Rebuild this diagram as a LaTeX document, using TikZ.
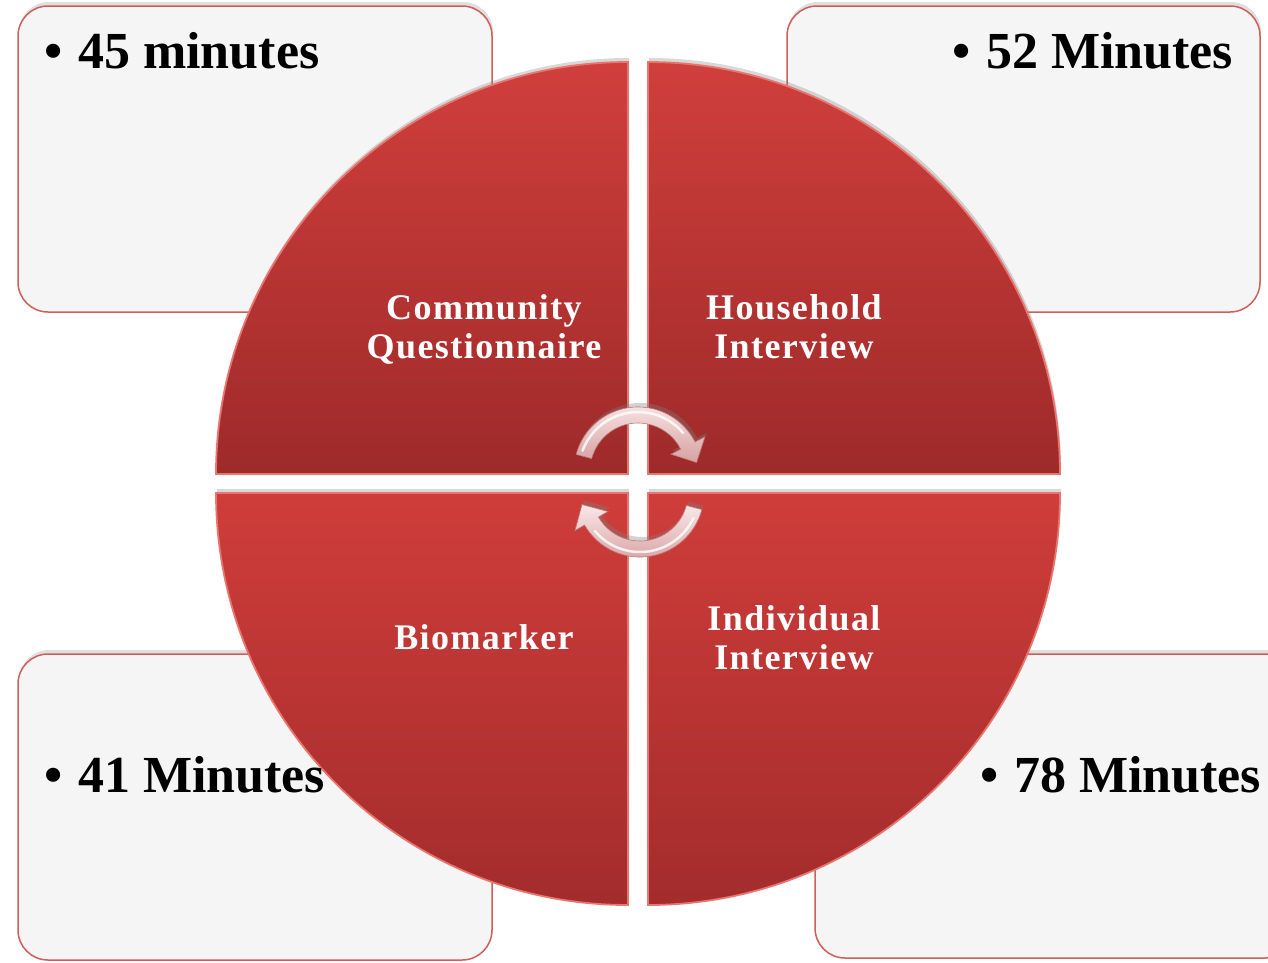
\documentclass[tikz,border=0pt]{standalone}
\usepackage{fontspec}
\setmainfont{Liberation Serif}
\newfontfamily\labfont[LetterSpace=4]{Liberation Serif}
\usetikzlibrary{calc,shadows}
\definecolor{boxfill}{RGB}{245,245,245}
\definecolor{boxline}{RGB}{205,95,92}
\definecolor{qtopA}{RGB}{208,63,60}
\definecolor{qbotA}{RGB}{158,42,42}
\definecolor{qtopB}{RGB}{207,61,58}
\definecolor{qbotB}{RGB}{163,44,44}
\definecolor{qedge}{RGB}{232,118,112}
\definecolor{arrtop}{RGB}{250,232,232}
\definecolor{arrbot}{RGB}{215,160,160}
\definecolor{arredge}{RGB}{190,120,120}
\tikzset{
  tbox/.style={draw=boxline, line width=1.5pt, fill=boxfill, rounded corners=30pt,
    inner sep=0pt, drop shadow={opacity=0.25, shadow xshift=1pt, shadow yshift=4pt}},
  tlabel/.style={anchor=base west, inner sep=0pt, text=black,
    font=\fontsize{52}{60}\selectfont\bfseries},
  quarterA/.style={top color=qtopA, bottom color=qbotA, draw=qedge, line width=1.8pt,
    drop shadow={opacity=0.3, shadow xshift=1pt, shadow yshift=4pt}},
  quarterB/.style={top color=qtopB, bottom color=qbotB, draw=qedge, line width=1.8pt,
    drop shadow={opacity=0.3, shadow xshift=1pt, shadow yshift=4pt}},
  qlabel/.style={align=center, inner sep=0pt, text=white,
    font=\labfont\fontsize{36}{39}\selectfont\bfseries},
  cyc/.style={top color=arrtop, bottom color=arrbot, draw=arredge, line width=0.6pt,
    drop shadow={opacity=0.35, shadow xshift=2pt, shadow yshift=4pt}},
  cychl/.style={draw=white, line width=2.5pt, opacity=0.8, line cap=round}
}
\begin{document}
\begin{tikzpicture}[x=1pt,y=-1pt]
\clip (0,0) rectangle (1268,962);
\fill[white] (0,0) rectangle (1268,962);

% outer boxes
\node[tbox, minimum width=474pt, minimum height=306pt] (b1) at (255,159) {};
\node[tbox, minimum width=473pt, minimum height=306pt] (b2) at (1023.5,159) {};
\node[tbox, minimum width=474pt, minimum height=306pt] (b3) at (255,807) {};
\node[tbox, minimum width=480pt, minimum height=304pt] (b4) at (1055,806) {};

% quadrants
\shade[quarterA] (628,474) -- (216,474) arc[start angle=180, end angle=270, radius=412] -- cycle;
\shade[quarterA] (648,474) -- (648,62) arc[start angle=270, end angle=360, radius=412] -- cycle;
\shade[quarterB] (648,493) -- (1060,493) arc[start angle=0, end angle=90, radius=412] -- cycle;
\shade[quarterB] (628,493) -- (628,905) arc[start angle=90, end angle=180, radius=412] -- cycle;

% cycle arrows
\coordinate (c1) at (638,471);
\coordinate (c2) at (640,493);
\shade[cyc] ($(c1)+(-165:64)$) arc[start angle=-165, end angle=-27, radius=64]
  -- ($(c1)+(-27:75)$) -- ($(c1)+(-27:56)+(63:19)$) -- ($(c1)+(-27:37)$)
  -- ($(c1)+(-27:48)$) arc[start angle=-27, end angle=-165, radius=48] -- cycle;
\draw[cychl] ($(c1)+(-160:59)$) arc[start angle=-160, end angle=-40, radius=59];
\shade[cyc] ($(c2)+(15:64)$) arc[start angle=15, end angle=150, radius=64]
  -- ($(c2)+(150:75)$) -- ($(c2)+(150:56)+(240:19)$) -- ($(c2)+(150:37)$)
  -- ($(c2)+(150:48)$) arc[start angle=150, end angle=15, radius=48] -- cycle;
\draw[cychl] ($(c2)+(25:59)$) arc[start angle=25, end angle=140, radius=59];

% quadrant labels
\node[qlabel] (q1) at (484,329) {Community\\Questionnaire};
\node[qlabel] (q2) at (794,327) {Household\\Interview};
\node[qlabel] (q3) at (484,637) {Biomarker};
\node[qlabel] (q4) at (794,638) {Individual\\Interview};

% box texts
\node[tlabel] (t1) at (44,68) {\makebox[34pt][l]{\textbullet}45 minutes};
\node[tlabel] (t2) at (952,68) {\makebox[34pt][l]{\textbullet}52 Minutes};
\node[tlabel] (t3) at (44,792) {\makebox[34pt][l]{\textbullet}41 Minutes};
\node[tlabel] (t4) at (980,792) {\makebox[34pt][l]{\textbullet}78 Minutes};
\end{tikzpicture}
\end{document}
